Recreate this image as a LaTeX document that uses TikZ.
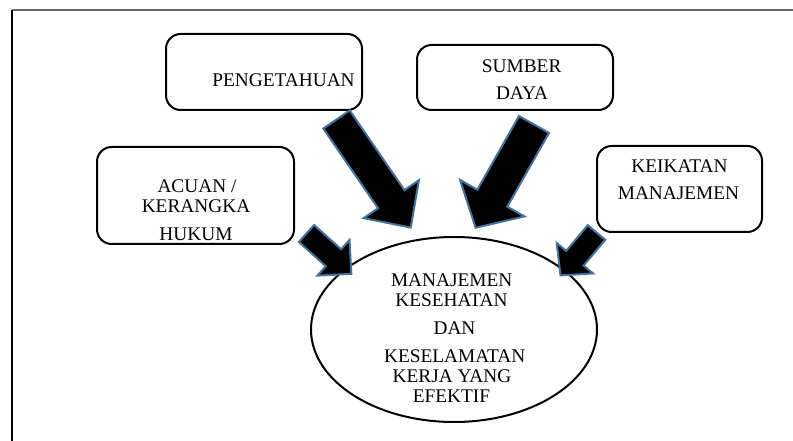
\documentclass[tikz,border=0pt]{standalone}
\usepackage{fontspec}
\setmainfont{Liberation Serif}
\definecolor{arrowedge}{HTML}{41719C}
\tikzset{
  box/.style={draw=black, line width=1.5pt, rounded corners=11pt, inner sep=0pt},
  oval/.style={draw=black, line width=1.5pt, ellipse, inner sep=0pt},
  txt/.style={font=\fontsize{14.5}{17}\selectfont, inner sep=0pt, anchor=base},
  arrowshape/.style={fill=black, draw=arrowedge, line width=1.5pt, line join=miter},
  pics/barrow/.style n args={4}{code={
    \path[arrowshape] (0,-#3) -- (#1,-#3) -- (#1,-#4) -- (#1+#2,0) -- (#1,#4) -- (#1,#3) -- (0,#3) -- cycle;
  }}
}
\usetikzlibrary{shapes.geometric}
\begin{document}
\begin{tikzpicture}[x=0.75pt, y=-0.75pt]
\useasboundingbox (0,0) rectangle (793,441);
% frame
\coordinate (fTL) at (12,10);
\coordinate (fTR) at (793,10);
\coordinate (fBL) at (12,441);
\draw[gray!80!black, line width=1.5pt] (fTL) -- (fTR);
\draw[black, line width=1.5pt] (fTL) -- (fBL);

% boxes
\node[box, minimum width=147pt, minimum height=57pt] (peng) at (264,72) {};
\node[box, minimum width=147pt, minimum height=48.75pt] (sumber) at (515,77.5) {};
\node[box, minimum width=147.75pt, minimum height=72.75pt] (acuan) at (195.5,195.5) {};
\node[box, minimum width=123.75pt, minimum height=64.5pt] (keik) at (679.5,189) {};
\node[oval, minimum width=214.5pt, minimum height=138.75pt] (mk3) at (454,329.5) {};

% texts
\node[txt] (tpeng) at (283.5,87) {PENGETAHUAN};
\node[txt] (tsum1) at (521.7,73) {SUMBER};
\node[txt] (tsum2) at (522,100) {DAYA};
\node[txt] (tac1) at (197,193) {ACUAN /};
\node[txt] (tac2) at (196,213) {KERANGKA};
\node[txt] (tac3) at (196,241) {HUKUM};
\node[txt] (tke1) at (679.5,173) {KEIKATAN};
\node[txt] (tke2) at (678.5,200) {MANAJEMEN};
\node[txt] (te1) at (451.7,287) {MANAJEMEN};
\node[txt] (te2) at (451.5,306.7) {KESEHATAN};
\node[txt] (te3) at (454.5,335) {DAN};
\node[txt] (te4) at (454.7,362.7) {KESELAMATAN};
\node[txt] (te5) at (452,382.7) {KERJA YANG};
\node[txt] (te6) at (451.5,402.7) {EFEKTIF};

% block arrows
\pic[rotate=-55.5] at (336.5,119.5) {barrow={96.7}{34.4}{16}{33.5}};
\pic[rotate=-119.5] at (534,124.5) {barrow={84.7}{33.9}{17.2}{37}};
\pic[rotate=-42] at (306.5,233.5) {barrow={36.3}{24}{11.4}{24}};
\pic[rotate=-130] at (596.5,232.5) {barrow={33.6}{22.4}{11.4}{23.7}};
\end{tikzpicture}
\end{document}
